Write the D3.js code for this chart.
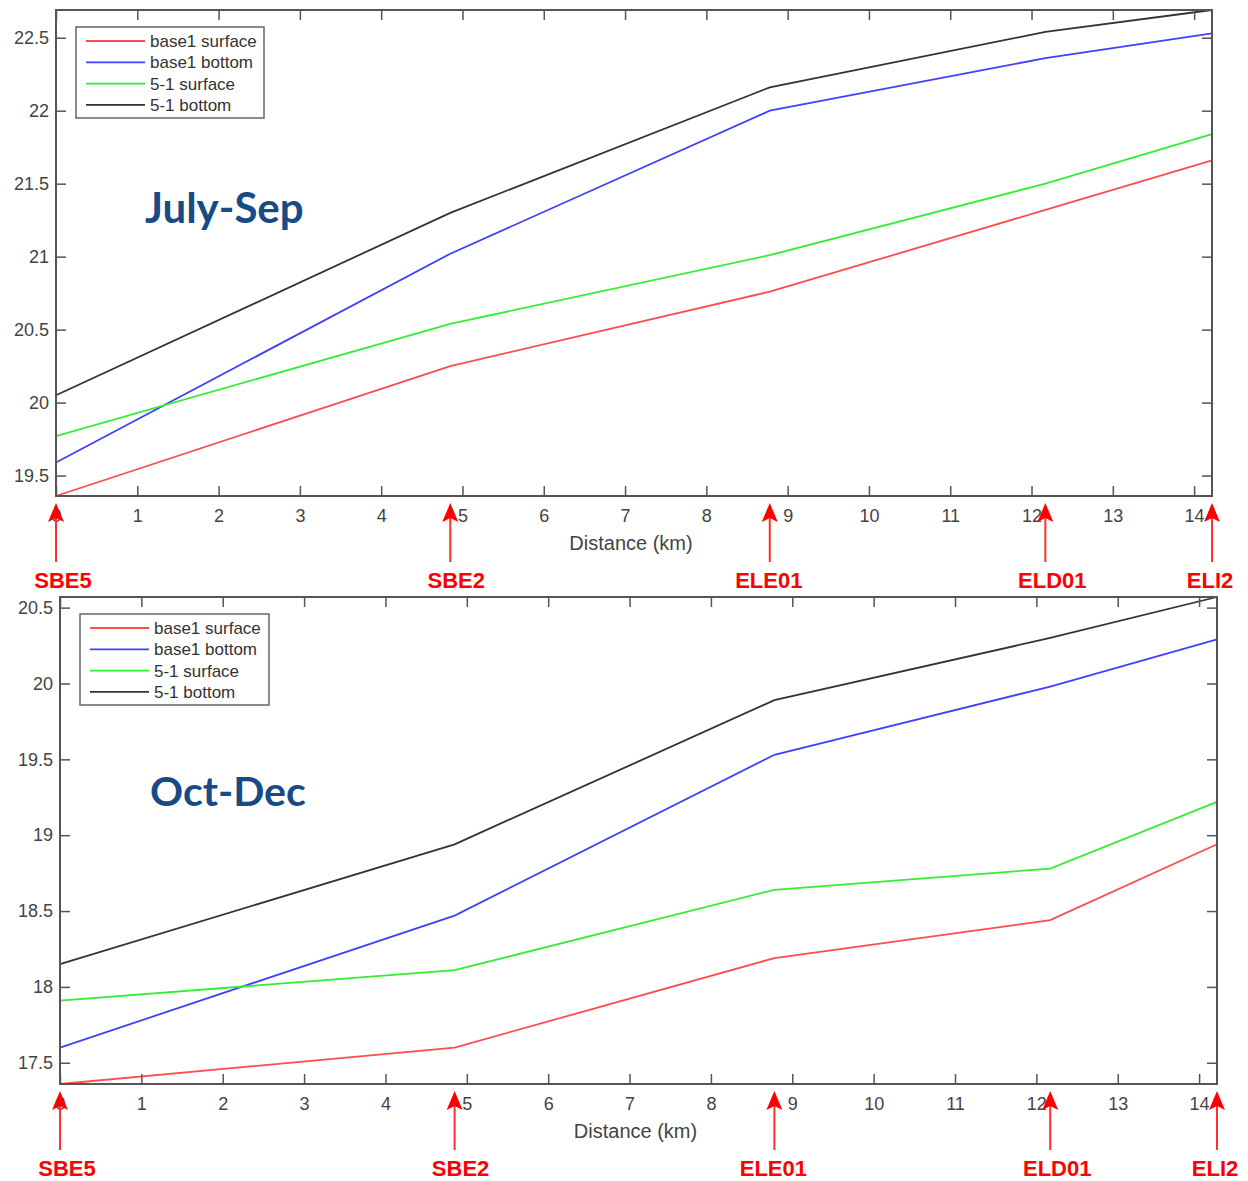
<!DOCTYPE html>
<html>
<head>
<meta charset="utf-8">
<script src="https://cdn.jsdelivr.net/npm/d3@7"></script>
<style>
  html, body { margin: 0; padding: 0; background: #fff; }
  svg { display: block; }
</style>
</head>
<body>
<svg id="chart" width="1248" height="1181"></svg>
<script>
// ---- DATA ----
const stations = ["SBE5", "SBE2", "ELE01", "ELD01", "ELI2"];
const distances = [0, 4.85, 8.78, 12.17, 14.22];
const seriesNames = ["base1 surface", "base1 bottom", "5-1 surface", "5-1 bottom"];
const seriesColors = ["#ff4d4d", "#4040ff", "#33ee33", "#333333"];
const xTicks = [0,1,2,3,4,5,6,7,8,9,10,11,12,13,14];

const julSepTitle = "July-Sep";
const julSepBase1Surface = [19.36, 20.25, 20.76, 21.32, 21.66];
const julSepBase1Bottom  = [19.59, 21.02, 22.00, 22.36, 22.53];
const julSep51Surface    = [19.77, 20.54, 21.01, 21.50, 21.84];
const julSep51Bottom     = [20.05, 21.30, 22.16, 22.54, 22.69];
const julSepYTicks = [19.5, 20, 20.5, 21, 21.5, 22, 22.5];

const octDecTitle = "Oct-Dec";
const octDecBase1Surface = [17.36, 17.60, 18.19, 18.44, 18.94];
const octDecBase1Bottom  = [17.60, 18.47, 19.53, 19.98, 20.29];
const octDec51Surface    = [17.91, 18.11, 18.64, 18.78, 19.22];
const octDec51Bottom     = [18.15, 18.94, 19.89, 20.30, 20.57];
const octDecYTicks = [17.5, 18, 18.5, 19, 19.5, 20, 20.5];

const xLabel = "Distance (km)";
const stationLabelOffsets = [7, 6, -1, 7, -2];

// ---- LAYOUT ----
const panels = [
  { title: julSepTitle, series: [julSepBase1Surface, julSepBase1Bottom, julSep51Surface, julSep51Bottom],
    yTicks: julSepYTicks, left: 56, right: 1212, top: 10, bottom: 496,
    titleX: 145, titleY: 223, titleSize: 42, legend: { x: 76, y: 27, w: 188, h: 91 } },
  { title: octDecTitle, series: [octDecBase1Surface, octDecBase1Bottom, octDec51Surface, octDec51Bottom],
    yTicks: octDecYTicks, left: 60, right: 1217, top: 597, bottom: 1084,
    titleX: 150, titleY: 806, titleSize: 41, legend: { x: 80, y: 614, w: 189, h: 91 } }
];

const svg = d3.select("#chart");
const axisColor = "#555";
const font = "'Liberation Sans', Arial, sans-serif";

panels.forEach(p => {
  const x = d3.scaleLinear().domain([0, d3.max(distances)]).range([p.left, p.right]);
  const allVals = p.series.flat();
  const y = d3.scaleLinear().domain(d3.extent(allVals)).range([p.bottom, p.top]);

  const g = svg.append("g");

  // lines
  const line = d3.line().x((d, i) => x(distances[i])).y(d => y(d));
  p.series.forEach((s, i) => {
    g.append("path").datum(s)
      .attr("d", line)
      .attr("fill", "none")
      .attr("stroke", seriesColors[i])
      .attr("stroke-width", 1.8);
  });

  // axes
  const styleAxis = sel => {
    sel.select(".domain").remove();
    sel.selectAll(".tick line").attr("stroke", axisColor).attr("stroke-width", 1.5);
    sel.selectAll(".tick text").attr("fill", "#444").attr("font-family", font).attr("font-size", 18);
  };
  g.append("g").attr("transform", `translate(0,${p.bottom})`)
    .call(d3.axisBottom(x).tickValues(xTicks).tickFormat(d3.format("d")).tickSizeInner(-10).tickSizeOuter(0).tickPadding(13))
    .call(styleAxis);
  g.append("g").attr("transform", `translate(0,${p.top})`)
    .call(d3.axisTop(x).tickValues(xTicks).tickFormat("").tickSizeInner(-10).tickSizeOuter(0))
    .call(styleAxis);
  g.append("g").attr("transform", `translate(${p.left},0)`)
    .call(d3.axisLeft(y).tickValues(p.yTicks).tickFormat(d3.format("")).tickSizeInner(-10).tickSizeOuter(0).tickPadding(7))
    .call(styleAxis);
  g.append("g").attr("transform", `translate(${p.right},0)`)
    .call(d3.axisRight(y).tickValues(p.yTicks).tickFormat("").tickSizeInner(-10).tickSizeOuter(0))
    .call(styleAxis);

  // frame
  g.append("rect")
    .attr("x", p.left).attr("y", p.top)
    .attr("width", p.right - p.left).attr("height", p.bottom - p.top)
    .attr("fill", "none").attr("stroke", axisColor).attr("stroke-width", 2);

  // x label
  g.append("text")
    .attr("x", (p.left + p.right) / 2 - 3)
    .attr("y", p.bottom + 54)
    .attr("text-anchor", "middle")
    .attr("font-family", font).attr("font-size", 20).attr("fill", "#444")
    .text(xLabel);

  // title
  g.append("text")
    .attr("x", p.titleX).attr("y", p.titleY)
    .attr("font-family", "Lato, 'Open Sans', sans-serif")
    .attr("font-weight", "bold").attr("font-size", p.titleSize)
    .attr("fill", "#184a86")
    .text(p.title);

  // legend
  const L = p.legend;
  const lg = g.append("g");
  lg.append("rect").attr("x", L.x).attr("y", L.y).attr("width", L.w).attr("height", L.h)
    .attr("fill", "#fff").attr("stroke", "#666").attr("stroke-width", 1.5);
  seriesNames.forEach((name, i) => {
    const ry = L.y + 14 + i * 21.3;
    lg.append("line").attr("x1", L.x + 10).attr("x2", L.x + 69).attr("y1", ry).attr("y2", ry)
      .attr("stroke", seriesColors[i]).attr("stroke-width", 1.8);
    lg.append("text").attr("x", L.x + 74).attr("y", ry + 6)
      .attr("font-family", font).attr("font-size", 17).attr("fill", "#333")
      .text(name);
  });

  // station arrows
  const ag = g.append("g");
  stations.forEach((st, i) => {
    const ax = x(distances[i]);
    const tip = p.bottom + 7;
    ag.append("line").attr("x1", ax).attr("x2", ax).attr("y1", tip + 14).attr("y2", tip + 59)
      .attr("stroke", "#ff3030").attr("stroke-width", 2);
    ag.append("path")
      .attr("d", `M${ax},${tip} L${ax - 8},${tip + 19} L${ax},${tip + 15} L${ax + 8},${tip + 19} Z`)
      .attr("fill", "#ff0000");
    ag.append("text")
      .attr("x", ax + stationLabelOffsets[i]).attr("y", p.bottom + 92)
      .attr("text-anchor", "middle")
      .attr("font-family", font).attr("font-weight", "bold").attr("font-size", 22)
      .attr("fill", "#ff0000")
      .text(st);
  });
});
</script>
</body>
</html>
